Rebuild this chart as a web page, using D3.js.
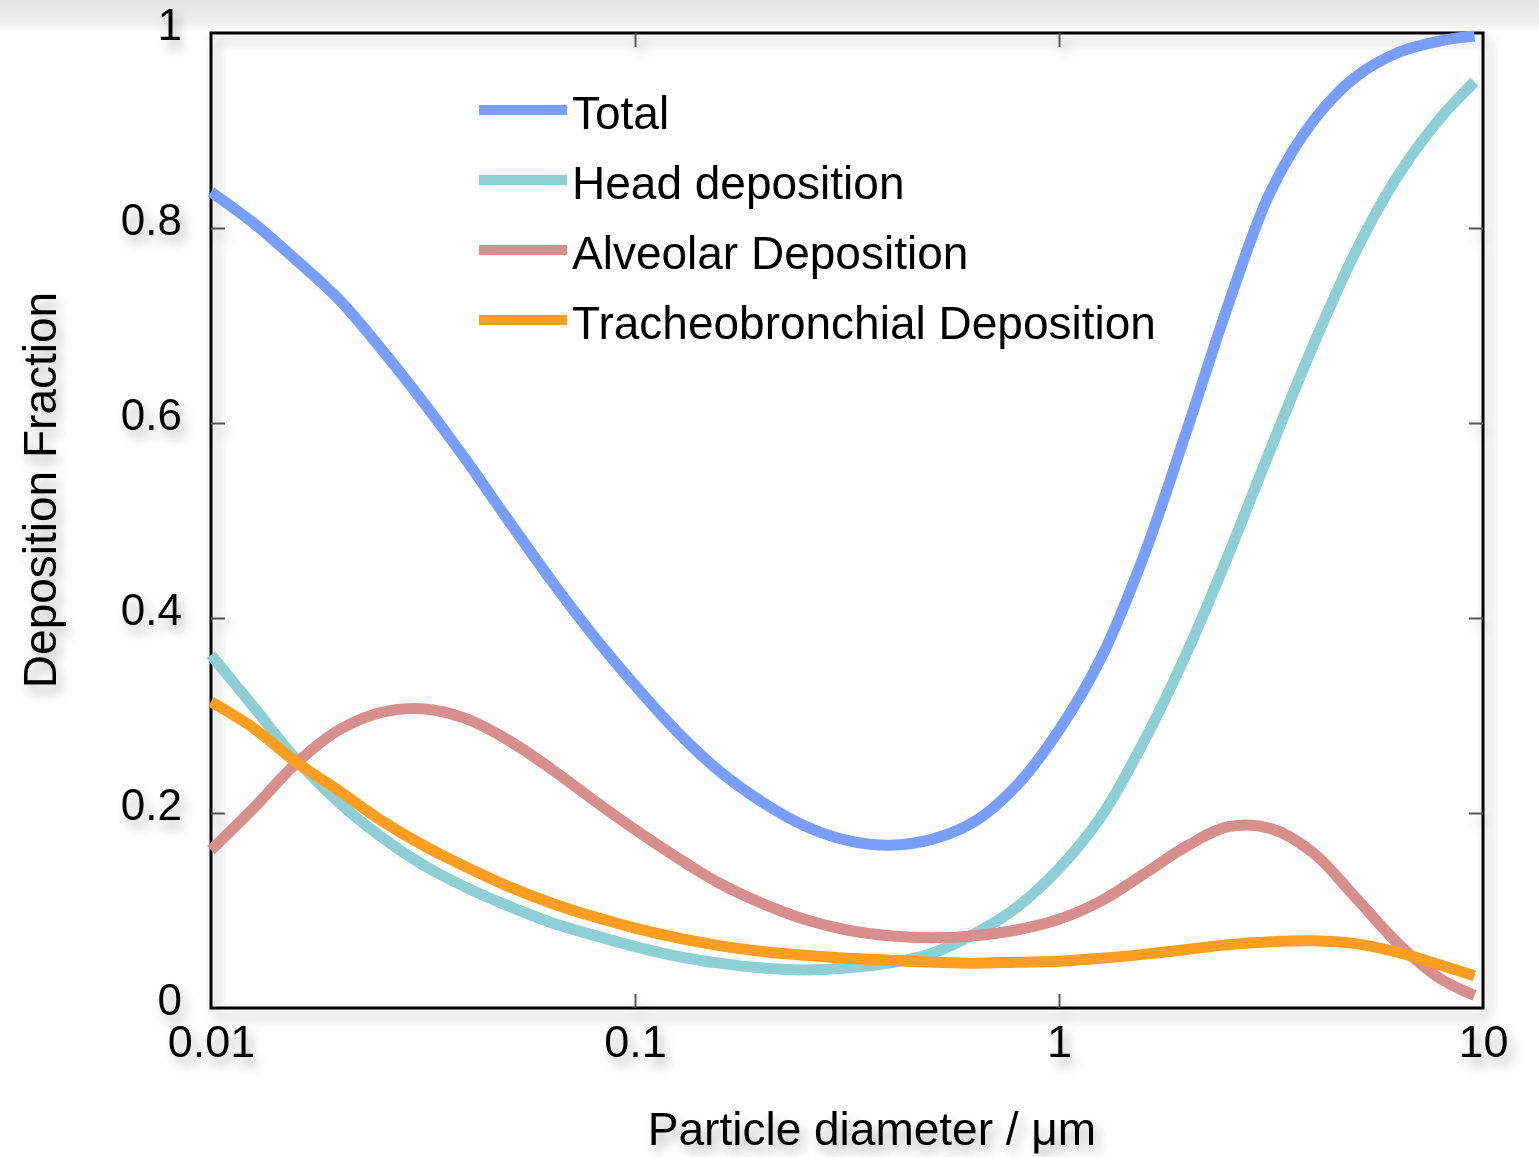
<!DOCTYPE html>
<meta charset="utf-8">
<title>Deposition Fraction</title>
<style>
body { margin: 0; background: #fff; }
text { font-family: "Liberation Sans", Arial, sans-serif; fill: #000; }
.line { fill: none; stroke-width: 11; stroke-linecap: butt; }
.tick line { stroke: #555; stroke-width: 2; }
.domain { display: none; }
</style>
<body>
<script src="https://d3js.org/d3.v7.min.js"></script>
<script>

// particle diameter in um, 0.1 decade steps
var diameters = [0.01, 0.0126, 0.0158, 0.02, 0.0251, 0.0316, 0.0398, 0.0501, 0.0631, 0.0794,
                 0.1, 0.126, 0.158, 0.2, 0.251, 0.316, 0.398, 0.501, 0.631, 0.794,
                 1, 1.26, 1.58, 2, 2.51, 3.16, 3.98, 5.01, 6.31, 7.94, 9.55];

var total = [0.837, 0.805, 0.768, 0.727, 0.677, 0.622, 0.563, 0.501, 0.440, 0.383,
             0.331, 0.283, 0.243, 0.211, 0.187, 0.172, 0.167, 0.173, 0.191, 0.228,
             0.285, 0.360, 0.462, 0.592, 0.722, 0.838, 0.910, 0.955, 0.980, 0.992, 0.997];

var head = [0.362, 0.309, 0.256, 0.211, 0.176, 0.147, 0.124, 0.105, 0.088, 0.075,
            0.063, 0.053, 0.046, 0.041, 0.039, 0.041, 0.046, 0.056, 0.076, 0.103,
            0.143, 0.197, 0.272, 0.364, 0.465, 0.574, 0.680, 0.776, 0.854, 0.913, 0.950];

var alveolar = [0.162, 0.205, 0.250, 0.285, 0.303, 0.307, 0.297, 0.275, 0.246, 0.214,
                0.183, 0.154, 0.128, 0.107, 0.091, 0.080, 0.074, 0.072, 0.074, 0.080,
                0.091, 0.110, 0.137, 0.166, 0.186, 0.184, 0.159, 0.113, 0.066, 0.030, 0.013];

var tracheo = [0.314, 0.287, 0.253, 0.223, 0.193, 0.167, 0.145, 0.125, 0.108, 0.094,
               0.082, 0.072, 0.064, 0.058, 0.054, 0.051, 0.049, 0.047, 0.046, 0.047,
               0.048, 0.051, 0.055, 0.060, 0.065, 0.068, 0.069, 0.066, 0.057, 0.044, 0.033];

var seriesNames = ["Total", "Head deposition", "Alveolar Deposition", "Tracheobronchial Deposition"];
var seriesColors = ["#789eff", "#8dcfd4", "#d78f8d", "#ff9e20"];
var seriesValues = [total, head, alveolar, tracheo];

var xTicks = [0.01, 0.1, 1, 10];
var yTicks = [0, 0.2, 0.4, 0.6, 0.8, 1];

var W = 1539, H = 1157;
var margin = {top: 33, right: 56, bottom: 149, left: 211};
var width = W - margin.left - margin.right,
    height = H - margin.top - margin.bottom;

var svg = d3.select("body").append("svg")
    .attr("width", W)
    .attr("height", H);

var defs = svg.append("defs");
defs.append("filter")
    .attr("id", "shadow")
    .attr("x", "-20%").attr("y", "-20%")
    .attr("width", "150%").attr("height", "160%")
  .append("feDropShadow")
    .attr("dx", 5).attr("dy", 8)
    .attr("stdDeviation", 6)
    .attr("flood-color", "#000")
    .attr("flood-opacity", 0.3);

var grad = defs.append("linearGradient")
    .attr("id", "topband")
    .attr("x1", 0).attr("y1", 0).attr("x2", 0).attr("y2", 1);
grad.append("stop").attr("offset", "0%").attr("stop-color", "#e4e4e4");
grad.append("stop").attr("offset", "70%").attr("stop-color", "#eeeeee");
grad.append("stop").attr("offset", "100%").attr("stop-color", "#ffffff");

svg.append("rect")
    .attr("x", 0).attr("y", 0)
    .attr("width", W).attr("height", 32)
    .attr("fill", "url(#topband)");

var x = d3.scaleLog().domain([0.01, 10]).range([margin.left, margin.left + width]);
var y = d3.scaleLinear().domain([0, 1]).range([margin.top + height, margin.top]);

// frame and axes, with the soft shadow
var axes = svg.append("g").attr("filter", "url(#shadow)");

axes.append("rect")
    .attr("x", x(0.01)).attr("y", y(1))
    .attr("width", x(10) - x(0.01))
    .attr("height", y(0) - y(1))
    .attr("fill", "none")
    .attr("stroke", "#000")
    .attr("stroke-width", 3);

var gx = axes.append("g")
    .attr("transform", "translate(0," + y(0) + ")")
    .call(d3.axisBottom(x).tickValues(xTicks).tickSize(-14).tickSizeOuter(0)
        .tickFormat(function(d) { return String(d); }));
gx.selectAll(".tick text")
    .attr("y", 0).attr("dy", 49)
    .style("font-size", "45px");
gx.selectAll(".tick").filter(function(d) { return d === 0.01 || d === 10; })
    .select("line").remove();

axes.append("g")
    .attr("transform", "translate(0," + y(1) + ")")
    .call(d3.axisTop(x).tickValues([0.1, 1]).tickSize(-14).tickSizeOuter(0).tickFormat(""));

var gy = axes.append("g")
    .attr("transform", "translate(" + x(0.01) + ",0)")
    .call(d3.axisLeft(y).tickValues(yTicks).tickSize(-14).tickSizeOuter(0)
        .tickFormat(d3.format("")));
gy.selectAll(".tick text")
    .attr("x", -29).attr("dy", "0.14em")
    .style("font-size", "44px");
gy.selectAll(".tick").filter(function(d) { return d === 0 || d === 1; })
    .select("line").remove();

axes.append("g")
    .attr("transform", "translate(" + x(10) + ",0)")
    .call(d3.axisRight(y).tickValues([0.2, 0.4, 0.6, 0.8]).tickSize(-14).tickSizeOuter(0).tickFormat(""));

svg.selectAll(".tick text").attr("fill", "#000");

// axis titles
var titles = svg.append("g").attr("filter", "url(#shadow)");
titles.append("text")
    .attr("x", 872).attr("y", 1145)
    .attr("text-anchor", "middle")
    .style("font-size", "46px")
    .text("Particle diameter / μm");

titles.append("text")
    .attr("transform", "translate(56," + 490 + ") rotate(-90)")
    .attr("text-anchor", "middle")
    .style("font-size", "46px")
    .text("Deposition Fraction");

// curves
var line = d3.line()
    .x(function(d) { return x(d[0]); })
    .y(function(d) { return y(d[1]); })
    .curve(d3.curveCatmullRom.alpha(0.5));

svg.append("g").selectAll(".line")
    .data(seriesValues)
    .enter().append("path")
    .attr("class", "line")
    .attr("stroke", function(d, i) { return seriesColors[i]; })
    .attr("d", function(vals) {
        return line(vals.map(function(v, j) { return [diameters[j], v]; }));
    });

// legend
var legend = svg.append("g").selectAll(".legend")
    .data(seriesNames)
    .enter().append("g")
    .attr("class", "legend")
    .attr("transform", function(d, i) { return "translate(479," + (110 + i * 70) + ")"; });

legend.append("line")
    .attr("x1", 0).attr("x2", 88)
    .attr("y1", 0).attr("y2", 0)
    .attr("stroke", function(d, i) { return seriesColors[i]; })
    .attr("stroke-width", 10);

legend.append("text")
    .attr("x", 93).attr("y", 19)
    .style("font-size", "46px")
    .text(function(d) { return d; });

</script>
</body>
